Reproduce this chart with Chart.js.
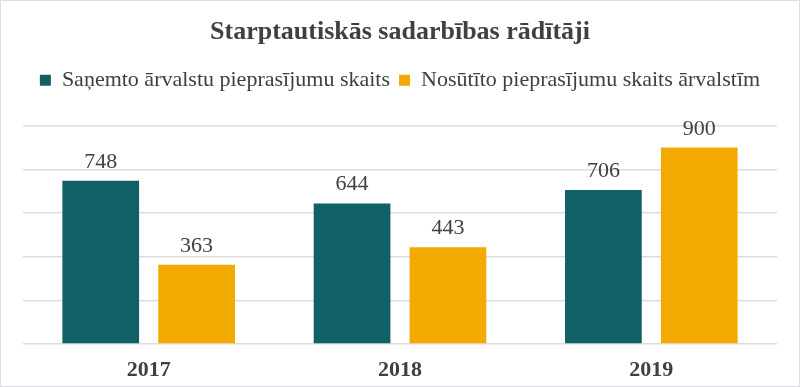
<!DOCTYPE html>
<html>
<head>
<meta charset="utf-8">
<script src="https://cdn.jsdelivr.net/npm/chart.js@4"></script>
<style>
  html, body { margin: 0; padding: 0; background: #fff; }
  #wrap { width: 800px; height: 387px; box-sizing: border-box; border: 1px solid #d9dde3; }
  #wrap canvas { display: block; }
</style>
</head>
<body>
<div id="wrap"><canvas id="chart" width="798" height="385"></canvas></div>
<script>
const years = ['2017', '2018', '2019'];
const received = [748, 644, 706];
const sent = [363, 443, 900];
const seriesNames = ['Saņemto ārvalstu pieprasījumu skaits', 'Nosūtīto pieprasījumu skaits ārvalstīm'];

const serif = '"Liberation Serif", "Times New Roman", serif';
const textColor = '#404040';

// extra room between the legend and the plot
const legendGap = {
	id: 'legendGap',
	beforeInit(chart) {
		const fit = chart.legend.fit;
		chart.legend.fit = function () {
			fit.call(this);
			this.height += 24.5;
		};
	},
};

// value labels above each bar
const barValues = {
	id: 'barValues',
	afterDatasetsDraw(chart) {
		const ctx = chart.ctx;
		ctx.save();
		ctx.font = '22px ' + serif;
		ctx.fillStyle = textColor;
		ctx.textAlign = 'center';
		ctx.textBaseline = 'alphabetic';
		chart.data.datasets.forEach((ds, i) => {
			chart.getDatasetMeta(i).data.forEach((bar, j) => {
				ctx.fillText(ds.data[j], bar.x, bar.y - 13);
			});
		});
		ctx.restore();
	},
};

new Chart(document.getElementById('chart'), {
	type: 'bar',
	data: {
		labels: years,
		datasets: [
			{ label: seriesNames[0], data: received, backgroundColor: '#115f67' },
			{ label: seriesNames[1], data: sent, backgroundColor: '#f2aa00' },
		],
	},
	options: {
		responsive: false,
		animation: false,
		layout: { padding: { left: 22, right: 22, top: 0, bottom: 0 } },
		datasets: { bar: { categoryPercentage: 0.763, barPercentage: 0.8 } },
		plugins: {
			title: {
				display: true,
				text: 'Starptautiskās sadarbības rādītāji',
				color: textColor,
				font: { family: serif, size: 26, weight: 'bold' },
				padding: { top: 16, bottom: 12 },
			},
			legend: {
				labels: {
					color: textColor,
					font: { family: serif, size: 22 },
					boxWidth: 11,
					boxHeight: 11,
					padding: 9,
				},
			},
			tooltip: { enabled: false },
		},
		scales: {
			x: {
				grid: { display: false, drawTicks: false },
				border: { display: false },
				ticks: { color: textColor, font: { family: serif, size: 22, weight: 'bold' }, padding: 13.5 },
				afterFit(scale) {
					scale.height = 42;
				},
			},
			y: {
				min: 0,
				max: 1000,
				ticks: { display: false, stepSize: 200 },
				grid: { color: '#d9dde3', lineWidth: 1.5, drawTicks: false },
				border: { display: false },
			},
		},
	},
	plugins: [legendGap, barValues],
});
</script>
</body>
</html>
